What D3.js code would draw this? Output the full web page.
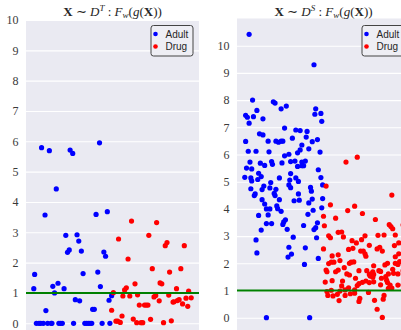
<!DOCTYPE html>
<html><head><meta charset="utf-8">
<script src="https://cdn.jsdelivr.net/npm/d3@7"></script>
<style>html,body{margin:0;padding:0;background:#fff;}svg{display:block;}</style>
</head><body>
<svg id="chart" width="401" height="330"></svg>
<script>
const categories = ["Adult", "Drug"];
const seriesColors = ["#0000ff", "#ff0000"];
const threshold = 1;
const yTicksTarget = [0,1,2,3,4,5,6,7,8,9,10];
const yTicksSource = [0,1,2,3,4,5,6,7,8,9,10];

// [jittered x, value]  — target domain D^T
const targetAdult = [
[-0.32,5.79],[-0.23,5.69],[0.01,5.71],[0.04,5.60],[0.35,5.95],[-0.15,4.43],[-0.28,3.57],[0.31,3.59],[0.44,3.68],
[-0.04,2.90],[0.09,2.92],[0.11,2.71],[0.00,2.42],[-0.02,2.34],[0.14,2.38],[0.40,2.35],[0.42,2.21],
[-0.40,1.61],[0.16,1.64],[0.33,1.69],[-0.41,1.14],[-0.19,1.22],[-0.13,1.32],[-0.06,1.14],[0.36,1.21],
[-0.17,1.00],[0.49,0.91],[0.07,0.78],[0.12,0.74],[0.46,0.76],[-0.27,0.42],[0.27,0.46],[0.29,0.46],
[-0.38,0],[-0.35,0],[-0.33,0],[-0.30,0],[-0.25,0],[-0.21,0],[-0.20,0],[-0.12,0],[-0.10,0],[-0.08,0],
[0.05,0],[0.18,0],[0.20,0],[0.22,0],[0.24,0],[0.26,0],[0.38,0],[0.47,0]
];
const targetDrug = [
[0.72,3.37],[1.01,3.32],[0.57,2.78],[0.92,2.90],[1.13,2.66],[1.11,2.56],[1.33,2.56],[0.68,2.12],
[0.96,1.80],[1.29,1.80],[1.16,1.69],[1.05,1.33],[1.07,1.30],[0.76,1.30],[0.66,1.17],[0.64,1.10],
[1.24,1.14],[1.38,1.06],[0.51,1.01],[0.79,0.94],[0.62,0.90],[0.70,0.90],[1.00,0.92],[0.98,0.87],
[1.15,0.93],[1.35,0.83],[1.41,0.84],[1.27,0.78],[1.25,0.75],[1.21,0.71],[1.20,0.70],[1.04,0.74],
[0.81,0.60],[0.87,0.60],[0.89,0.60],[0.91,0.60],[1.31,0.64],[1.37,0.56],[0.49,0.43],[0.61,0.24],
[0.74,0.14],[0.54,0.07],[0.56,0.07],[0.59,0.03],[0.78,0.02],[0.83,0.02],[0.85,0.02],[0.94,0.13],
[1.09,0.02],[1.18,0.08]
];
// source domain D^S
const sourceAdult = [
[-0.36,10.42],[0.39,9.30],[-0.32,8.00],[-0.08,7.94],[-0.06,7.89],[0.07,7.78],[0.01,7.68],[-0.27,7.62],
[0.41,7.68],[-0.40,7.44],[-0.38,7.37],[-0.31,7.39],[-0.20,7.31],[-0.36,7.15],[0.40,7.48],[0.47,7.51],
[0.48,7.22],[0.05,6.97],[-0.24,6.76],[-0.20,6.72],[0.18,6.90],[0.23,6.88],[0.31,6.85],[0.30,6.64],
[0.14,6.60],[-0.40,6.48],[-0.14,6.49],[-0.05,6.49],[-0.02,6.45],[0.01,6.49],[0.03,6.49],[0.25,6.35],
[0.37,6.47],[0.43,6.55],[0.33,6.21],[-0.37,6.12],[-0.28,6.12],[-0.13,6.10],[0.23,6.17],[0.20,6.06],
[0.10,6.01],[0.05,5.95],[0.46,6.09],[-0.35,5.72],[-0.23,5.68],[-0.18,5.60],[-0.10,5.74],[-0.09,5.64],
[0.02,5.69],[0.12,5.74],[0.17,5.76],[0.25,5.72],[0.29,5.76],[0.25,5.59],[0.27,5.59],[0.20,5.56],
[-0.39,5.50],[-0.33,5.47],[-0.25,5.31],[0.12,5.30],[0.44,5.44],[-0.41,5.16],[-0.34,5.14],[-0.33,5.03],
[-0.26,5.08],[-0.22,5.19],[-0.11,4.97],[-0.01,5.14],[0.18,5.14],[0.21,5.01],[0.11,5.06],[0.35,4.79],
[0.36,4.65],[-0.34,4.74],[-0.19,4.84],[-0.21,4.71],[-0.12,4.77],[-0.05,4.72],[-0.07,4.57],[-0.06,4.49],
[0.10,4.88],[0.12,4.78],[-0.29,4.55],[-0.30,4.49],[0.21,4.55],[0.37,4.36],[-0.21,4.34],[-0.01,4.34],
[0.16,4.30],[0.22,4.32],[-0.18,4.18],[0.33,4.22],[-0.12,4.00],[-0.16,4.00],[-0.04,4.11],[-0.03,4.01],
[0.01,3.91],[0.38,3.95],[0.49,4.38],[0.47,5.15],[0.49,4.88],[0.48,4.04],[-0.25,3.76],[-0.14,3.78],
[0.32,3.80],[0.06,3.60],[0.04,3.52],[0.03,3.43],[-0.10,3.46],[-0.16,3.46],[0.43,3.49],[0.27,3.39],
[0.08,3.25],[0.41,3.31],[0.39,3.24],[-0.22,3.22],[0.15,2.96],[0.42,2.94],[-0.28,2.86],[0.10,2.59],
[0.29,2.57],[0.13,2.34],[0.09,2.23],[-0.27,2.38],[0.44,2.18],[0.28,1.96],[-0.16,0],[0.34,0]
];
const sourceDrug = [
[0.53,4.84],[0.76,5.72],[0.89,5.90],[0.58,4.15],[0.78,3.94],[0.86,4.10],[0.95,3.83],[1.29,4.51],
[0.50,3.73],[0.64,3.66],[1.10,3.61],[0.51,3.38],[1.26,3.42],[1.28,3.35],[1.30,3.27],[0.56,3.01],
[0.58,2.94],[0.67,3.14],[0.71,3.15],[0.73,2.97],[0.98,3.01],[1.13,3.03],[1.20,3.04],[1.33,3.04],
[1.37,2.75],[0.83,2.83],[0.94,2.87],[0.88,2.75],[1.03,2.66],[1.32,2.65],[1.15,2.59],[1.12,2.53],
[1.18,2.45],[0.79,2.51],[0.84,2.55],[0.93,2.45],[0.96,2.45],[0.98,2.35],[0.99,2.26],[0.50,2.53],
[0.60,2.27],[0.67,2.31],[1.37,2.35],[1.33,2.24],[0.69,2.10],[0.59,2.04],[0.62,2.04],[0.82,2.04],
[0.85,2.05],[0.80,2.00],[0.56,1.99],[1.08,1.91],[1.21,1.94],[1.24,2.00],[1.33,2.00],[1.36,1.96],
[1.38,2.06],[0.74,1.84],[0.53,1.75],[0.54,1.69],[0.64,1.69],[0.67,1.75],[0.91,1.73],[1.00,1.73],
[1.07,1.69],[1.14,1.73],[1.16,1.70],[1.30,1.78],[1.31,1.63],[0.77,1.61],[0.80,1.57],[1.03,1.59],
[1.05,1.61],[1.08,1.59],[1.04,1.53],[1.07,1.49],[1.22,1.51],[1.25,1.61],[1.36,1.61],[0.87,1.45],
[0.52,1.31],[0.60,1.36],[0.72,1.35],[0.99,1.35],[0.95,1.30],[0.91,1.25],[1.03,1.29],[1.08,1.32],
[1.17,1.45],[1.23,1.38],[1.24,1.29],[1.27,1.20],[1.16,1.21],[1.36,1.20],[0.71,1.17],[0.89,1.18],
[1.29,1.09],[0.54,0.96],[0.59,1.01],[0.69,0.98],[0.75,1.02],[0.79,1.10],[0.86,1.02],[1.02,0.93],
[1.25,1.08],[0.55,0.82],[0.61,0.80],[0.66,0.86],[0.81,0.88],[0.86,0.90],[0.75,0.82],[0.68,0.63],
[0.92,0.71],[0.91,0.60],[1.09,0.64],[1.19,0.68],[1.12,0.31],[1.18,0.01],[1.20,0.82],
[1.42,3.41],[1.42,2.71],[1.42,1.72],[1.42,1.20]
];

const panels = [
  {title: "T", adult: targetAdult, drug: targetDrug, ticks: yTicksTarget, yMax: 10,
   left: 26, right: 199, top: 20, zero: 323.3},
  {title: "S", adult: sourceAdult, drug: sourceDrug, ticks: yTicksSource, yMax: 11,
   left: 237, right: 410, top: 18.5, zero: 317.7}
];

const svg = d3.select("#chart");
const defs = svg.append("defs");

panels.forEach((p, i) => {
  const x = d3.scaleLinear().domain([-0.5, 1.5]).range([p.left, p.right]);
  const y = d3.scaleLinear().domain([0, p.yMax]).range([p.zero, p.top]);
  const g = svg.append("g");
  const bottom = 345;
  defs.append("clipPath").attr("id", "clip" + i)
    .append("rect").attr("x", p.left).attr("y", p.top).attr("width", p.right - p.left).attr("height", bottom - p.top);

  g.append("rect").attr("x", p.left).attr("y", p.top)
    .attr("width", p.right - p.left).attr("height", bottom - p.top).attr("fill", "#eaeaf2");

  // grid
  const grid = g.append("g").attr("transform", `translate(${p.left},0)`)
    .call(d3.axisLeft(y).tickValues(p.ticks).tickSize(-(p.right - p.left)).tickFormat(""));
  grid.select(".domain").remove();
  grid.selectAll("line").attr("stroke", "#ffffff").attr("stroke-width", 1.1);

  // tick labels
  const ax = g.append("g").attr("transform", `translate(${p.left},0)`)
    .call(d3.axisLeft(y).tickValues(p.ticks).tickSize(0).tickPadding(7.5).tickFormat(d3.format("d")));
  ax.select(".domain").remove();
  ax.selectAll("text").attr("font-family", "'Liberation Serif', serif").attr("font-size", 12)
    .attr("fill", "#3a3a3a");

  const plot = g.append("g").attr("clip-path", `url(#clip${i})`);
  [p.adult, p.drug].forEach((data, k) => {
    plot.append("g").selectAll("circle").data(data).join("circle")
      .attr("cx", d => x(d[0])).attr("cy", d => y(d[1])).attr("r", 2.6)
      .attr("fill", seriesColors[k]);
  });
  plot.append("line").attr("x1", p.left).attr("x2", p.right)
    .attr("y1", y(threshold)).attr("y2", y(threshold))
    .attr("stroke", "#008000").attr("stroke-width", 2);

  // title
  const cx = (p.left + p.right) / 2;
  const t = svg.append("text").attr("x", cx).attr("y", 15.5).attr("text-anchor", "middle")
    .attr("font-family", "'Liberation Serif', serif").attr("font-size", 13).attr("fill", "#262626");
  t.append("tspan").attr("font-weight", "bold").text("X");
  t.append("tspan").text(" \u223C ");
  t.append("tspan").attr("font-style", "italic").text("D");
  t.append("tspan").attr("font-style", "italic").attr("font-size", 9).attr("dy", -5).text(p.title);
  t.append("tspan").attr("dy", 5).text(" : ");
  t.append("tspan").attr("font-style", "italic").text("F");
  t.append("tspan").attr("font-style", "italic").attr("font-size", 9).attr("dy", 2.5).text("w");
  t.append("tspan").attr("dy", -2.5).text("(");
  t.append("tspan").attr("font-style", "italic").text("g");
  t.append("tspan").text("(");
  t.append("tspan").attr("font-weight", "bold").text("X");
  t.append("tspan").text("))");

  // legend
  const lg = g.append("g").attr("transform", `translate(${p.right - 48},25.5)`);
  lg.append("rect").attr("x", 0).attr("y", 0).attr("width", 42).attr("height", 30.5).attr("rx", 2.5)
    .attr("fill", "#eeeef4").attr("stroke", "#444").attr("stroke-width", 1);
  categories.forEach((c, k) => {
    lg.append("circle").attr("cx", 4.5).attr("cy", 8.5 + k * 12.5).attr("r", 2.3).attr("fill", seriesColors[k]);
    lg.append("text").attr("x", 14.5).attr("y", 12.3 + k * 12.5)
      .attr("font-family", "'Liberation Sans', sans-serif").attr("font-size", 10).attr("fill", "#262626").text(c);
  });
});
</script>
</body></html>
